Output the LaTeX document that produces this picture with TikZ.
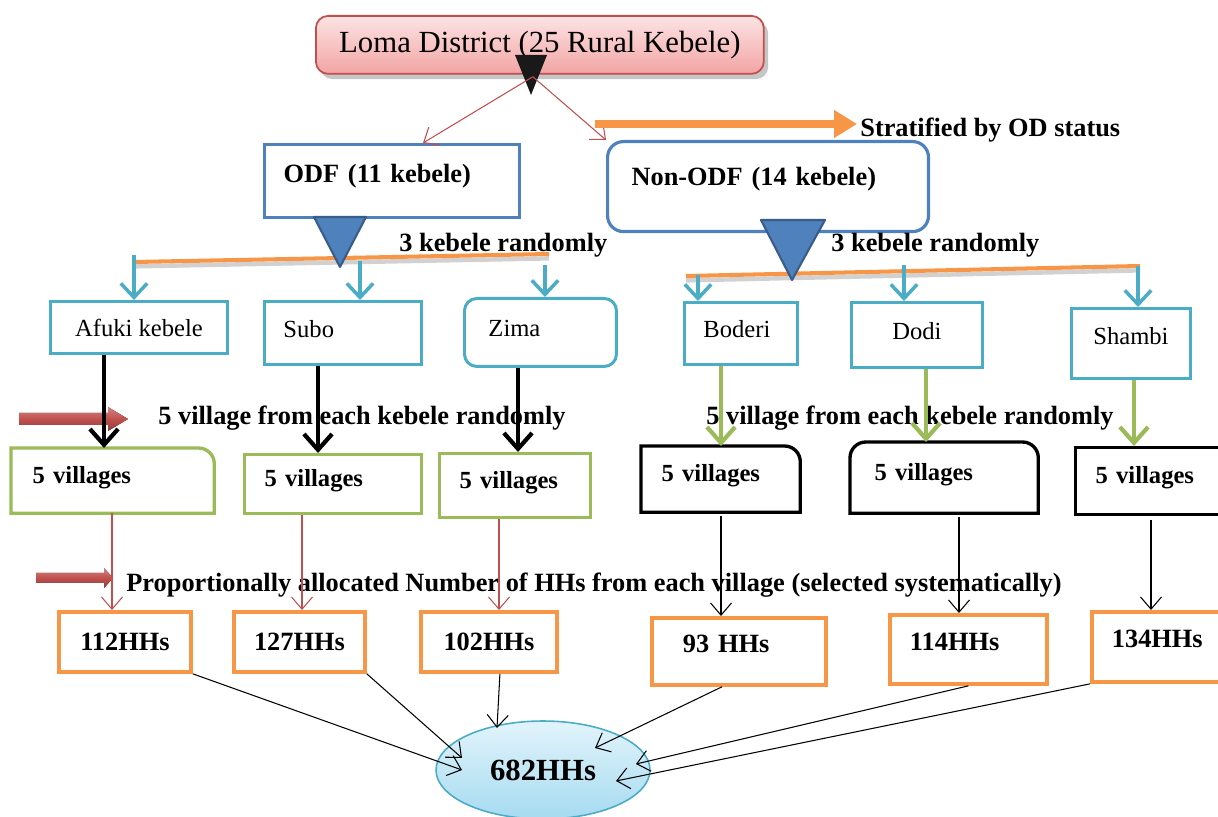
\documentclass[tikz,border=0pt]{standalone}
\usepackage{fontspec}
\setmainfont{Liberation Serif}
\usetikzlibrary{positioning,shadows,arrows.meta,calc,shapes.geometric}

\definecolor{odfblue}{RGB}{79,129,189}
\definecolor{odfdark}{RGB}{56,93,138}
\definecolor{kebteal}{RGB}{75,172,198}
\definecolor{vilgreen}{RGB}{155,187,89}
\definecolor{hhorange}{RGB}{247,150,70}
\definecolor{linkred}{RGB}{192,80,77}
\definecolor{pinktop}{RGB}{252,228,228}
\definecolor{pinkbot}{RGB}{243,164,164}
\definecolor{skytop}{RGB}{226,244,251}
\definecolor{skybot}{RGB}{166,219,240}

\tikzset{
  sbox/.style={draw, anchor=north west, inner ysep=0pt, fill=white},
  topbox/.style={sbox, draw=linkred, line width=1pt, rounded corners=7pt,
    top color=pinktop, bottom color=pinkbot,
    drop shadow={opacity=0.45, shadow xshift=2.5pt, shadow yshift=-3pt},
    font=\fontsize{17.5}{20}\selectfont},
  stratbox/.style={sbox, draw=odfblue, line width=1.8pt, align=left,
    font=\fontsize{15}{18}\selectfont\bfseries},
  kebbox/.style={sbox, draw=kebteal, line width=1.7pt, align=left, text depth=5pt,
    font=\fontsize{14}{17}\selectfont},
  vilbox/.style={sbox, line width=1.9pt, align=left, text depth=6.5pt,
    font=\fontsize{14}{17}\selectfont\bfseries},
  hhbox/.style={sbox, draw=hhorange, line width=2.2pt, align=left,
    font=\fontsize{15}{18}\selectfont\bfseries},
  note/.style={anchor=west, inner sep=0pt, font=\fontsize{15}{18}\selectfont\bfseries},
  pickbar/.style={hhorange, line width=2.3pt,
    preaction={draw=black!18, line width=2.5pt, transform canvas={yshift=-2.5pt}}},
  tealarrow/.style={draw=kebteal, line width=2pt, -{Straight Barb[length=8pt,width=15pt]}},
  blackarrow/.style={draw=black, line width=2.4pt, -{Straight Barb[length=9pt,width=16pt]}},
  greenarrow/.style={draw=vilgreen, line width=2.4pt, -{Straight Barb[length=9pt,width=16pt]}},
  redlink/.style={draw=linkred, line width=0.6pt, -{Straight Barb[length=7pt,width=12pt]}},
  blacklink/.style={draw=black, line width=0.6pt, -{Straight Barb[length=7pt,width=12pt]}},
  blockarrow/.style={top color=linkred!70!white, bottom color=linkred!75!black, middle color=linkred},
  picktri/.style={fill=odfblue, draw=odfdark, line width=1.2pt, line join=round}
}

\begin{document}
\begin{tikzpicture}[x=0.02cm, y=-0.02cm]
  \useasboundingbox (0,0) rectangle (1218,817);

  % district
  \node[topbox, minimum width=8.96cm, minimum height=1.16cm] (loma) at (315,15) {Loma District (25 Rural Kebele)};
  \fill[black!90] (515,55) -- (547,55) -- (531,95) -- cycle;

  % strata
  \node[stratbox, text width=4.34cm, inner xsep=0.38cm, minimum height=1.46cm, text depth=9pt] (odf) at (263,143) {ODF (11 kebele)};
  \node[stratbox, rounded corners=9pt, text width=5.46cm, inner xsep=0.48cm, minimum height=1.8cm, text depth=12pt] (nonodf) at (606,140) {Non-ODF (14 kebele)};

  \draw[redlink] ($(loma.south)+(-7,2)$) -- (odf.north -| 423,0);
  \draw[redlink] ($(loma.south)+(-7,2)$) -- (nonodf.north west);

  \draw[hhorange, line width=4pt, -{Triangle[length=13pt,width=15pt]}] (595,124) -- (857,124);
  \node[note] (strat) at (860,130) {Stratified by OD status};

  % kebele selection
  \draw[pickbar] (134,262) -- (549,254);
  \draw[pickbar] (686,276) -- (1140,266);
  \fill[picktri] (314,217) -- (366,217) -- (340,267) -- cycle;
  \fill[picktri] (761,220) -- (825,220) -- (792,280) -- cycle;
  \node[note] (pickl) at (399,245) {3 kebele randomly};
  \node[note] (pickr) at (831,245) {3 kebele randomly};

  \node[kebbox, minimum width=3.54cm, minimum height=1.04cm, text depth=0pt, align=center] (afuki) at (49,300) {Afuki kebele};
  \node[kebbox, text width=2.38cm, inner xsep=0.38cm, minimum height=1.26cm] (subo) at (263,300) {Subo};
  \node[kebbox, rounded corners=7pt, text width=2.08cm, inner xsep=0.48cm, minimum height=1.36cm] (zima) at (463,297) {Zima};
  \node[kebbox, text width=1.5cm, inner xsep=0.38cm, minimum height=1.24cm] (boderi) at (683,301) {Boderi};
  \node[kebbox, minimum width=2.62cm, minimum height=1.3cm, align=center] (dodi) at (850,301) {Dodi};
  \node[kebbox, minimum width=2.38cm, minimum height=1.4cm, text depth=9pt, align=center] (shambi) at (1070,307) {Shambi};

  \coordinate (t11) at (134,255);
  \coordinate (t12) at (360,261);
  \coordinate (t13) at (545,265);
  \coordinate (t21) at (698,275);
  \coordinate (t22) at (904,265);
  \coordinate (t23) at (1138,266);
  \foreach \tap/\keb in {t11/afuki, t12/subo, t13/zima, t21/boderi, t22/dodi, t23/shambi}
    \draw[tealarrow] (\tap) -- (\keb.north -| \tap);

  % village selection
  \fill[blockarrow] (19,413) -- (108,413) -- (108,407) -- (128,419) -- (108,431) -- (108,425) -- (19,425) -- cycle;
  \node[note] (vill) at (158,418) {5 village from each kebele randomly};
  \node[note] (vilr) at (706,418) {5 village from each kebele randomly};

  \node[vilbox, draw=none, text width=3.2cm, inner xsep=0.4cm, minimum height=1.24cm] (va) at (11,448) {5 villages};
  \draw[vilgreen, line width=1.9pt] (va.south west) -- (va.north west) [rounded corners=9pt] -- (va.north east) [sharp corners] -- (va.south east) -- cycle;
  \node[vilbox, draw=vilgreen, text width=2.74cm, inner xsep=0.4cm, minimum height=1.18cm] (vb) at (243,453) {5 villages};
  \node[vilbox, draw=vilgreen, text width=2.22cm, inner xsep=0.4cm, minimum height=1.28cm] (vc) at (438,452) {5 villages};
  \node[vilbox, draw=none, text width=2.36cm, inner xsep=0.38cm, minimum height=1.26cm] (vd) at (641,446) {5 villages};
  \draw[black, line width=1.9pt] (vd.south west) -- (vd.north west) [rounded corners=9pt] -- (vd.north east) [sharp corners] -- (vd.south east) -- cycle;
  \node[vilbox, draw=none, text width=2.78cm, inner xsep=0.46cm, minimum height=1.36cm] (ve) at (850,442) {5 villages};
  \draw[black, line width=1.9pt] (ve.south west) [rounded corners=9pt] -- (ve.north west) -- (ve.north east) [sharp corners] -- (ve.south east) -- cycle;
  \node[vilbox, draw=black, text width=2.2cm, inner xsep=0.4cm, minimum height=1.34cm] (vf) at (1074,446) {5 villages};

  \foreach \x/\keb/\vil in {104/afuki/va, 318/subo/vb, 518/zima/vc}
    \draw[blackarrow] (\keb.south -| \x,0) -- (\vil.north -| \x,0);
  \foreach \x/\keb/\vil in {721/boderi/vd, 926/dodi/ve, 1134/shambi/vf}
    \draw[greenarrow] (\keb.south -| \x,0) -- (\vil.north -| \x,0);

  % households
  \fill[blockarrow] (36,573) -- (104,573) -- (104,568) -- (113,578) -- (104,588) -- (104,583) -- (36,583) -- cycle;
  \node[note] (alloc) at (126,585) {Proportionally allocated Number of HHs from each village (selected systematically)};

  \node[hhbox, minimum width=2.64cm, minimum height=1.2cm, align=center] (ha) at (57,610) {112HHs};
  \node[hhbox, minimum width=2.62cm, minimum height=1.2cm, align=center] (hb) at (232,610) {127HHs};
  \node[hhbox, minimum width=2.72cm, minimum height=1.2cm, align=center] (hc) at (419,610) {102HHs};
  \node[hhbox, text width=2.24cm, inner xsep=0.62cm, minimum height=1.34cm, text depth=9pt] (hd) at (650,616) {93 HHs};
  \node[hhbox, text width=2.34cm, inner xsep=0.4cm, minimum height=1.38cm, text depth=9pt] (he) at (888,613) {114HHs};
  \node[hhbox, text width=1.9cm, inner xsep=0.4cm, minimum height=1.4cm, text depth=9pt] (hf) at (1090,610) {134HHs};

  \foreach \x/\vil/\hh in {112/va/ha, 302/vb/hb, 499/vc/hc}
    \draw[redlink] (\vil.south -| \x,0) -- (\hh.north -| \x,0);
  \foreach \x/\vil/\hh in {721/vd/hd, 959/ve/he, 1151/vf/hf}
    \draw[blacklink, shorten <=2pt] (\vil.south -| \x,0) -- (\hh.north -| \x,0);

  % total
  \node[ellipse, draw=kebteal, line width=0.9pt, top color=skytop, bottom color=skybot,
    minimum width=4.28cm, minimum height=1.96cm,
    font=\fontsize{17.5}{20}\selectfont\bfseries] (total) at (543,770) {682HHs};

  \draw[blacklink] (ha.south east) -- ($(total.center)+(-81,0)$);
  \draw[blacklink] (hb.south east) -- ($(total.center)+(-81,-12)$);
  \draw[blacklink] ($(hc.south)+(11,0)$) -- ($(total.center)+(-46,-42)$);
  \draw[blacklink] ($(hd.south)+(-17,0)$) -- ($(total.center)+(52,-22)$);
  \draw[blacklink] (he.south) -- ($(total.center)+(93,-6)$);
  \draw[blacklink] (hf.south west) -- ($(total.center)+(73,11)$);
\end{tikzpicture}
\end{document}
